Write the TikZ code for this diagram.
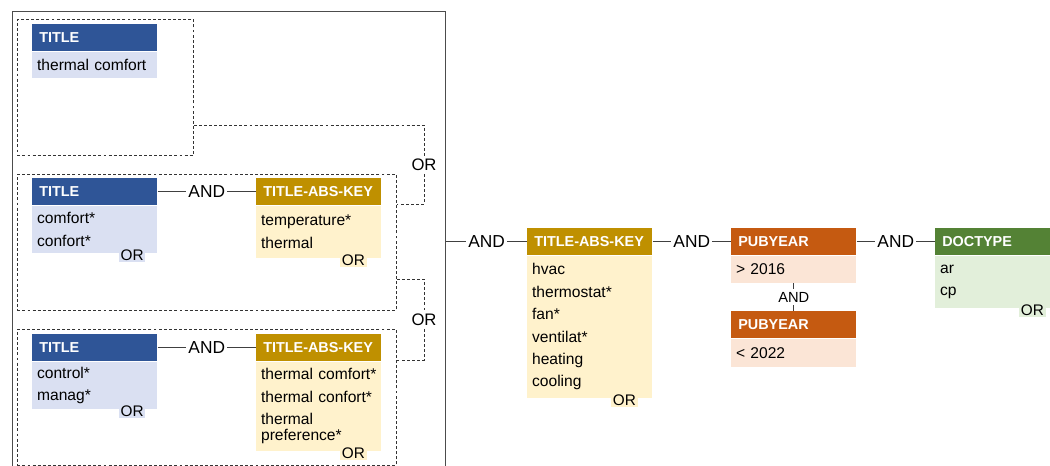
\documentclass[tikz,border=0pt]{standalone}
\usepackage{fontspec}
\setmainfont{Liberation Sans}
\definecolor{tblue}{HTML}{2F5597}
\definecolor{tbluel}{HTML}{DAE0F2}
\definecolor{tgold}{HTML}{BF9000}
\definecolor{tgoldl}{HTML}{FFF2CC}
\definecolor{torange}{HTML}{C55A11}
\definecolor{torangel}{HTML}{FBE5D6}
\definecolor{tgreen}{HTML}{548235}
\definecolor{tgreenl}{HTML}{E2EFDA}
\begin{document}
\begin{tikzpicture}[x=0.75pt, y=-0.75pt,
      hd/.style={fill=#1, text=white, anchor=north west, minimum height=20.25pt, text width=83.25pt, inner xsep=5.25pt, align=left, font=\bfseries\fontsize{10.8}{12}\selectfont},
      bd/.style={fill=#1, anchor=north, text width=86.5pt, inner xsep=3.6pt, align=left, font=\fontsize{11.7}{16.8}\selectfont},
      ortag/.style={fill=#1, anchor=north east, inner xsep=1.2pt, inner ysep=0.5pt, font=\fontsize{11.5}{12}\selectfont},
      grp/.style={draw=black!80, dash pattern=on 2.2pt off 1.6pt, line width=0.6pt, anchor=north west, inner sep=0pt},
      dline/.style={draw=black!80, dash pattern=on 2.2pt off 1.6pt, line width=0.6pt},
      conn/.style={draw=black!75, line width=0.75pt},
      lbl/.style={fill=white, inner sep=1.5pt, font=\fontsize{13}{14}\selectfont},
      orlbl/.style={inner sep=2pt, font=\fontsize{12.5}{14}\selectfont}]
                      \useasboundingbox (0,0) rectangle (1050,466);
                      \node[draw=black!70, line width=1pt, anchor=north west, inner sep=0pt, minimum width=324.75pt, minimum height=360pt] (outer) at (12,11) {};
                      \node[grp, minimum width=132pt, minimum height=102pt] (g1) at (17,19) {};
                      \node[grp, minimum width=284.25pt, minimum height=102pt] (g2) at (17,174) {};
                      \node[grp, minimum width=284.25pt, minimum height=102pt] (g3) at (17,329) {};

                      \node[hd=tblue] (t1h) at (32,24) {TITLE};
                      \node[bd=tbluel, minimum height=19.5pt] (t1b) at (t1h.south) {\mbox{thermal comfort}};

                      \node[hd=tblue] (t2h) at (32,178) {TITLE};
                      \node[bd=tbluel, minimum height=35.25pt] (t2b) at (t2h.south) {comfort*\\confort*};
                      \node[ortag=tbluel] (t2or) at ([xshift=-9pt,yshift=3pt]t2b.south east) {OR};
                      \node[hd=tgold] (k2h) at (256,178) {TITLE-ABS-KEY};
                      \node[bd=tgoldl, minimum height=39pt] (k2b) at (k2h.south) {temperature*\\thermal};
                      \node[ortag=tgoldl] (k2or) at ([xshift=-11pt,yshift=3pt]k2b.south east) {OR};

                      \node[hd=tblue] (t3h) at (32,334) {TITLE};
                      \node[bd=tbluel, minimum height=35.25pt] (t3b) at (t3h.south) {control*\\manag*};
                      \node[ortag=tbluel] (t3or) at ([xshift=-9pt,yshift=3pt]t3b.south east) {OR};
                      \node[hd=tgold] (k3h) at (256,334) {TITLE-ABS-KEY};
                      \node[bd=tgoldl, minimum height=66.75pt] (k3b) at (k3h.south) {\mbox{thermal comfort*}\\\mbox{thermal confort*}\\thermal\\[-4.8pt]preference*};
                      \node[ortag=tgoldl] (k3or) at ([xshift=-11pt,yshift=3pt]k3b.south east) {OR};

                      \node[hd=tgold] (k0h) at (527,228) {TITLE-ABS-KEY};
                      \node[bd=tgoldl, minimum height=106.5pt] (k0b) at (k0h.south) {hvac\\thermostat*\\fan*\\ventilat*\\heating\\cooling};
                      \node[ortag=tgoldl] (k0or) at ([xshift=-11pt,yshift=3pt]k0b.south east) {OR};

                      \node[hd=torange] (p1h) at (731,228) {PUBYEAR};
                      \node[bd=torangel, minimum height=20.25pt] (p1b) at (p1h.south) {> 2016};
                      \node[hd=torange] (p2h) at (731,311) {PUBYEAR};
                      \node[bd=torangel, minimum height=21pt] (p2b) at (p2h.south) {< 2022};

                      \node[hd=tgreen] (dh) at (935,228) {DOCTYPE};
                      \node[bd=tgreenl, minimum height=39pt] (db) at (dh.south) {ar\\cp};
                      \node[ortag=tgreenl] (dor) at ([xshift=-11pt,yshift=3pt]db.south east) {OR};

                      \coordinate (c1) at (424,125);
                      \coordinate (c2) at (424,204);
                      \coordinate (c3) at (424,279);
                      \coordinate (c4) at (424,360);
                      \node[orlbl] (or1) at (424,165) {OR};
                      \node[orlbl] (or2) at (424,320) {OR};

                      \draw[dline] (g1.east |- c1) -- (c1) -- (or1);
                      \draw[dline] (or1) -- (c2) -- (g2.east |- c2);
                      \draw[dline] (g2.east |- c3) -- (c3) -- (or2);
                      \draw[dline] (or2) -- (c4) -- (g3.east |- c4);
                      \draw[conn] (t2h) -- node[lbl] {AND} (k2h);
                      \draw[conn] (t3h) -- node[lbl] {AND} (k3h);
                      \draw[conn] (outer.east |- k0h.west) -- node[lbl] {AND} (k0h);
                      \draw[conn] (k0h) -- node[lbl] {AND} (p1h);
                      \draw[conn] (p1h) -- node[lbl] {AND} (dh);
                      \draw[conn] (p1b) -- node[lbl, inner sep=2pt, font=\fontsize{11}{12}\selectfont] {AND} (p2h);
\end{tikzpicture}
\end{document}
